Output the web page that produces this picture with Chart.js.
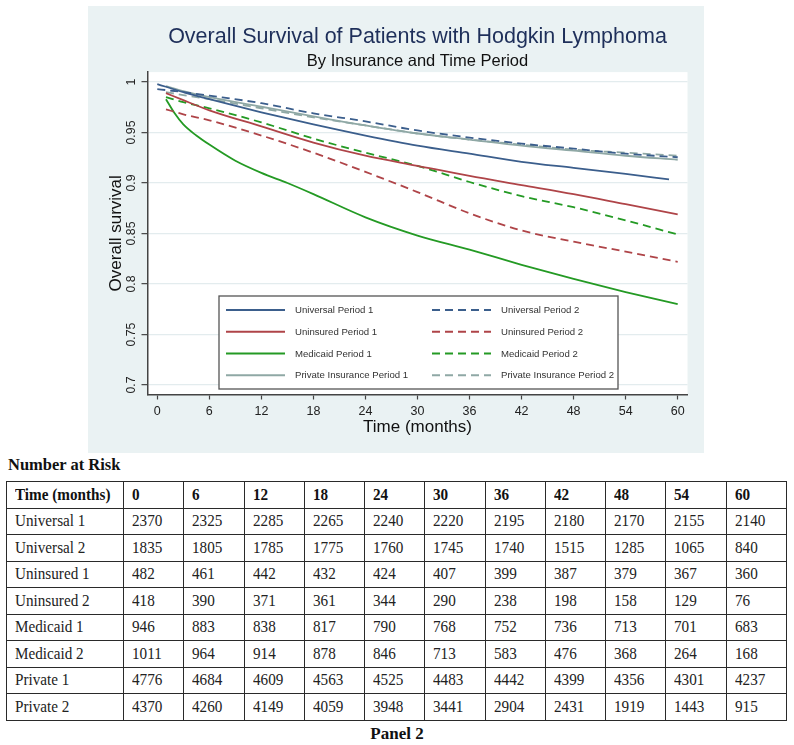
<!DOCTYPE html>
<html>
<head>
<meta charset="utf-8">
<script src="https://cdn.jsdelivr.net/npm/chart.js@4.4.1/dist/chart.umd.min.js"></script>
<style>
html,body{margin:0;padding:0;background:#fff;width:794px;height:745px;overflow:hidden;}
#wrap{position:absolute;left:88px;top:6px;width:616px;height:447px;background:#EAF2F3;}
#riskTitle{position:absolute;left:8px;top:455px;font:bold 16.5px "Liberation Serif","Times New Roman",serif;color:#111;white-space:nowrap;}
#risk{position:absolute;left:6px;top:481px;border-collapse:collapse;table-layout:fixed;font-family:"Liberation Serif","Times New Roman",serif;font-size:16.5px;color:#222;}
#risk td{border:1.3px solid #2a2a2a;height:25.5px;padding:0 0 0 8px;white-space:nowrap;overflow:hidden;}
#risk td span{display:inline-block;transform:scale(0.92,1.06);transform-origin:left center;}
#risk tr.hd td{font-weight:bold;color:#111;}
#panel{position:absolute;left:0;width:794px;top:724px;text-align:center;font:bold 17px "Liberation Serif","Times New Roman",serif;color:#111;}
</style>
</head>
<body>
<div id="wrap"><canvas id="c" width="616" height="447"></canvas></div>
<div id="riskTitle">Number at Risk</div>
<table id="risk"></table>
<div id="panel">Panel 2</div>
<script>
// ---- axis ticks ----
const xTicks = [0, 6, 12, 18, 24, 30, 36, 42, 48, 54, 60];
const yTicks = [0.7, 0.75, 0.8, 0.85, 0.9, 0.95, 1];

// ---- survival curves (months, survival) ----
const timeUniversal1 = [0, 3, 6, 12, 18, 24, 30, 36, 42, 48, 54, 59];
const universal1 = [0.998, 0.990, 0.983, 0.970, 0.958, 0.947, 0.937, 0.929, 0.921, 0.915, 0.909, 0.9035];

const timeUniversal2 = [0, 1, 3, 6, 12, 18, 24, 30, 36, 42, 48, 54, 60];
const universal2 = [0.993, 0.992, 0.990, 0.9865, 0.979, 0.969, 0.961, 0.952, 0.945, 0.939, 0.934, 0.929, 0.9255];

const timeOther = [1, 3, 6, 12, 18, 24, 30, 36, 42, 48, 54, 60];
const uninsured1 = [0.989, 0.982, 0.972, 0.956, 0.940, 0.927, 0.917, 0.907, 0.898, 0.889, 0.879, 0.869];
const uninsured2 = [0.973, 0.968, 0.962, 0.947, 0.930, 0.911, 0.891, 0.870, 0.853, 0.842, 0.832, 0.822];
const medicaid2  = [0.985, 0.980, 0.974, 0.960, 0.944, 0.930, 0.917, 0.901, 0.887, 0.876, 0.863, 0.849];
const private1   = [0.996, 0.991, 0.985, 0.9755, 0.966, 0.957, 0.949, 0.943, 0.937, 0.932, 0.927, 0.923];
const private2   = [0.990, 0.987, 0.983, 0.974, 0.965, 0.957, 0.949, 0.943, 0.938, 0.933, 0.930, 0.927];

const timeMedicaid1 = [1, 2, 3, 4.5, 6, 9, 12, 15, 18, 24, 30, 36, 42, 48, 54, 60];
const medicaid1 = [0.983, 0.969, 0.958, 0.947, 0.938, 0.922, 0.910, 0.900, 0.889, 0.866, 0.848, 0.834, 0.819, 0.805, 0.792, 0.780];

// ---- number at risk table ----
const riskTimes = [0, 6, 12, 18, 24, 30, 36, 42, 48, 54, 60];
const riskGroups = ["Universal 1", "Universal 2", "Uninsured 1", "Uninsured 2", "Medicaid 1", "Medicaid 2", "Private 1", "Private 2"];
const riskUniversal1 = [2370, 2325, 2285, 2265, 2240, 2220, 2195, 2180, 2170, 2155, 2140];
const riskUniversal2 = [1835, 1805, 1785, 1775, 1760, 1745, 1740, 1515, 1285, 1065, 840];
const riskUninsured1 = [482, 461, 442, 432, 424, 407, 399, 387, 379, 367, 360];
const riskUninsured2 = [418, 390, 371, 361, 344, 290, 238, 198, 158, 129, 76];
const riskMedicaid1 = [946, 883, 838, 817, 790, 768, 752, 736, 713, 701, 683];
const riskMedicaid2 = [1011, 964, 914, 878, 846, 713, 583, 476, 368, 264, 168];
const riskPrivate1 = [4776, 4684, 4609, 4563, 4525, 4483, 4442, 4399, 4356, 4301, 4237];
const riskPrivate2 = [4370, 4260, 4149, 4059, 3948, 3441, 2904, 2431, 1919, 1443, 915];

// build table
(function(){
  const rows = [riskUniversal1, riskUniversal2, riskUninsured1, riskUninsured2, riskMedicaid1, riskMedicaid2, riskPrivate1, riskPrivate2];
  const t = document.getElementById('risk');
  let html = '<colgroup><col style="width:117px">' + riskTimes.map(() => '<col style="width:60.27px">').join('') + '</colgroup>';
  html += '<tr class="hd"><td><span>Time (months)</span></td>' + riskTimes.map(v => '<td><span>' + v + '</span></td>').join('') + '</tr>';
  rows.forEach((r, i) => {
    html += '<tr><td><span>' + riskGroups[i] + '</span></td>' + r.map(v => '<td><span>' + v + '</span></td>').join('') + '</tr>';
  });
  t.innerHTML = html;
})();

const BLUE = '#3B5E8C', RED = '#AF4448', GREEN = '#249A24', GREY = '#8FA8A5';
const DASH = [8, 5];

function series(label, t, v, color, dash) {
  return {
    label, data: t.map((x, i) => ({x, y: v[i]})),
    borderColor: color, backgroundColor: color, borderDash: dash || [],
    borderWidth: 1.8, pointRadius: 0, fill: false, cubicInterpolationMode: 'monotone'
  };
}

const datasets = [
  series('Universal Period 1', timeUniversal1, universal1, BLUE),
  series('Universal Period 2', timeUniversal2, universal2, BLUE, DASH),
  series('Uninsured Period 1', timeOther, uninsured1, RED),
  series('Uninsured Period 2', timeOther, uninsured2, RED, DASH),
  series('Medicaid Period 1', timeMedicaid1, medicaid1, GREEN),
  series('Medicaid Period 2', timeOther, medicaid2, GREEN, DASH),
  series('Private Insurance Period 1', timeOther, private1, GREY),
  series('Private Insurance Period 2', timeOther, private2, GREY, DASH)
];

const bgPlugin = {
  id: 'bg',
  beforeDraw(chart) {
    const {ctx, chartArea: a} = chart;
    ctx.save();
    ctx.fillStyle = '#EAF2F3';
    ctx.fillRect(0, 0, chart.width, chart.height);
    ctx.fillStyle = '#ffffff';
    ctx.fillRect(a.left, a.top, a.right - a.left, a.bottom - a.top);
    ctx.restore();
  }
};

const yLabelPlugin = {
  id: 'yLabels',
  afterDraw(chart) {
    const {ctx} = chart;
    const s = chart.scales.y;
    ctx.save();
    ctx.font = '12.3px "Liberation Sans", Arial, sans-serif';
    ctx.fillStyle = '#222';
    ctx.textAlign = 'center';
    ctx.textBaseline = 'middle';
    yTicks.forEach(v => {
      const y = s.getPixelForValue(v);
      ctx.save();
      ctx.translate(s.right - 15.5, y);
      ctx.rotate(-Math.PI / 2);
      ctx.fillText(String(v), 0, 0);
      ctx.restore();
    });
    ctx.restore();
  }
};

const boxLegendPlugin = {
  id: 'boxLegend',
  afterDatasetsDraw(chart) {
    const {ctx} = chart;
    const bx = 131, by = 290, bw = 399, bh = 93;
    ctx.save();
    ctx.fillStyle = '#fff';
    ctx.fillRect(bx, by, bw, bh);
    ctx.strokeStyle = '#555';
    ctx.lineWidth = 1.3;
    ctx.strokeRect(bx, by, bw, bh);
    ctx.font = '9.6px "Liberation Sans", Arial, sans-serif';
    ctx.textBaseline = 'middle';
    ctx.textAlign = 'left';
    chart.data.datasets.forEach((d, i) => {
      const col = i % 2, row = Math.floor(i / 2);
      const y = by + 14 + row * 21.75;
      const lx = bx + (col === 0 ? 7 : 213);
      const tx = bx + (col === 0 ? 76 : 282);
      ctx.strokeStyle = d.borderColor;
      ctx.lineWidth = 2;
      ctx.setLineDash(d.borderDash || []);
      ctx.beginPath();
      ctx.moveTo(lx, y);
      ctx.lineTo(lx + 59, y);
      ctx.stroke();
      ctx.setLineDash([]);
      ctx.fillStyle = '#333';
      ctx.fillText(d.label, tx, y + 0.5);
    });
    ctx.restore();
  }
};

new Chart(document.getElementById('c'), {
  type: 'line',
  data: {datasets},
  plugins: [bgPlugin, yLabelPlugin, boxLegendPlugin],
  options: {
    responsive: false,
    animation: false,
    devicePixelRatio: 1,
    layout: {padding: {left: 0, right: 16.5, top: 0, bottom: 0}},
    plugins: {
      legend: {display: false},
      tooltip: {enabled: false},
      title: {
        display: true, text: 'Overall Survival of Patients with Hodgkin Lymphoma',
        fullSize: false, align: 'center', color: '#1E2F5A',
        font: {family: '"Liberation Sans", Arial, sans-serif', size: 21.5, weight: 'normal'},
        padding: {top: 18, bottom: 0}
      },
      subtitle: {
        display: true, text: 'By Insurance and Time Period',
        fullSize: false, align: 'center', color: '#111',
        font: {family: '"Liberation Sans", Arial, sans-serif', size: 16.5, weight: 'normal'},
        padding: {top: 1.3, bottom: 1.2}
      }
    },
    scales: {
      x: {
        type: 'linear', min: -1.13, max: 61.13,
        afterBuildTicks: s => { s.ticks = xTicks.map(v => ({value: v})); },
        afterFit: s => { s.height = 58.5; },
        grid: {drawOnChartArea: false, drawTicks: true, tickLength: 5, tickColor: '#444', tickWidth: 1.2},
        border: {display: true, color: '#444', width: 1.5},
        ticks: {color: '#222', padding: 5, maxRotation: 0, autoSkip: false,
          font: {family: '"Liberation Sans", Arial, sans-serif', size: 12.5}},
        title: {display: true, text: 'Time (months)', color: '#111',
          font: {family: '"Liberation Sans", Arial, sans-serif', size: 17},
          padding: {top: 0, bottom: 15.8}}
      },
      y: {
        type: 'linear', min: 0.6906, max: 1.0098,
        afterBuildTicks: s => { s.ticks = yTicks.map(v => ({value: v})); },
        afterFit: s => { s.width = 59.5; },
        grid: {color: '#E3ECEE', lineWidth: 1.3, drawTicks: true, tickLength: 6, tickColor: '#444', tickWidth: 1.2},
        border: {display: true, color: '#444', width: 1.5},
        ticks: {display: false},
        title: {display: true, text: 'Overall survival', color: '#111',
          font: {family: '"Liberation Sans", Arial, sans-serif', size: 17},
          padding: {top: 18, bottom: 0}}
      }
    }
  }
});
</script>
</body>
</html>
